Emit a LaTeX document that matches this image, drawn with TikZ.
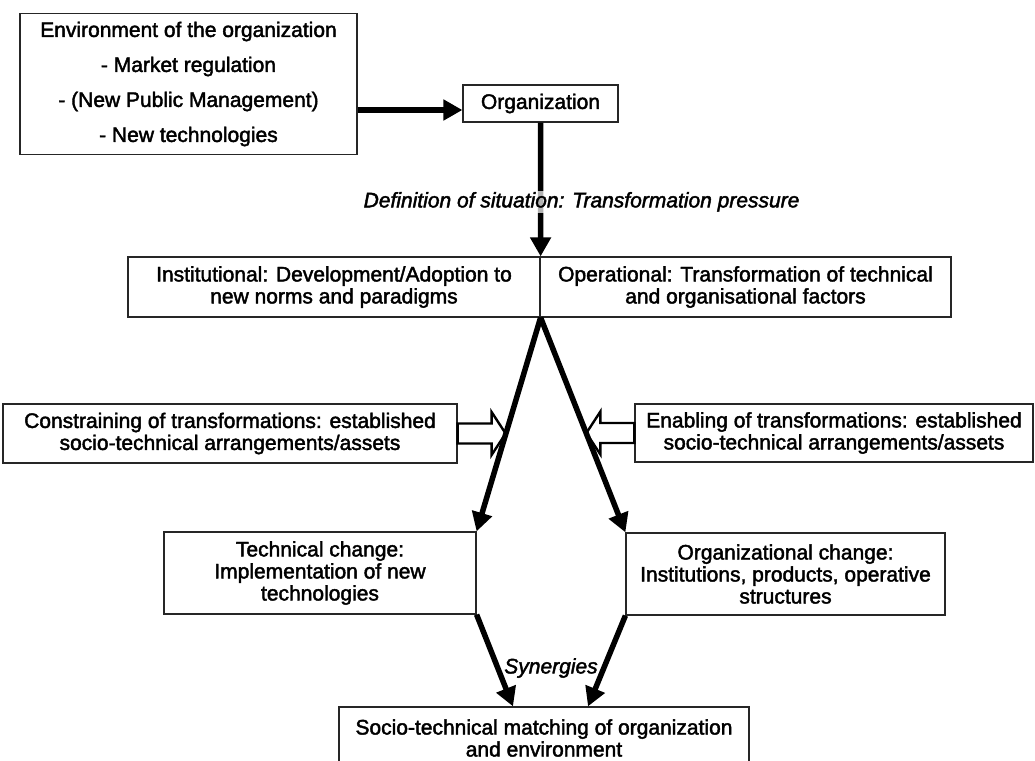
\documentclass[tikz,border=0pt]{standalone}
\usepackage{fontspec}
\setmainfont{Liberation Sans}[RawFeature={embolden=2}]
\usepackage{tikz}
\usetikzlibrary{shapes, positioning, arrows.meta}

\begin{document}
\begin{tikzpicture}[x=1pt, y=-1pt, line join=miter]
\tikzstyle{box}=[draw=black!85, rectangle, line width=1.2pt, fill=white, align=center, inner sep=2pt, font=\fontsize{21}{22}\selectfont]
\tikzstyle{heavy}=[line width=5.5pt, -{Triangle[length=19pt, width=20pt]}]
\tikzstyle{hollow}=[draw=black, line width=2.4pt, fill=white]
\tikzstyle{remark}=[font=\fontsize{21}{22}\selectfont\itshape]

\useasboundingbox (0,0) rectangle (1035,760);
\clip (0,0) rectangle (1035,760);

\node[box, minimum width=337pt, minimum height=141pt, font=\fontsize{21}{35}\selectfont] (env) at (188.5,84) {Environment of the organization\\ - Market regulation\\ - (New Public Management)\\ - New technologies};
\node[box, minimum width=155pt, minimum height=37pt] (org) at (540.5,103.5) {Organization};
\node[box, minimum width=412pt, minimum height=60pt] (inst) at (334,287) {Institutional: Development/Adoption to\\ new norms and paradigms};
\node[box, minimum width=411pt, minimum height=60pt] (oper) at (745.5,287) {Operational: Transformation of technical\\ and organisational factors};
\node[box, minimum width=454pt, minimum height=59pt] (cons) at (230,433.5) {Constraining of transformations: established\\ socio-technical arrangements/assets};
\node[box, minimum width=398pt, minimum height=58pt] (enab) at (834,433) {Enabling of transformations: established\\ socio-technical arrangements/assets};
\node[box, minimum width=312pt, minimum height=82pt] (tech) at (320,573) {Technical change:\\ Implementation of new\\ technologies};
\node[box, minimum width=319pt, minimum height=82pt] (orgc) at (785.5,574) {Organizational change:\\ Institutions, products, operative\\ structures};
\node[box, minimum width=410pt, minimum height=62pt] (match) at (544,738) {Socio-technical matching of organization\\ and environment};
\node[remark] (syn) at (551,668) {Synergies};

% hollow arrows
\draw[hollow] ([yshift=10pt]cons.east) -- ++(34,0) -- ++(0,-11.5) -- ++(14,21.5) -- ++(-14,21.5) -- ++(0,-11.5) -- ++(-34,0) -- cycle;
\draw[hollow] ([yshift=10pt]enab.west) -- ++(-34,0) -- ++(0,-11.5) -- ++(-14,21.5) -- ++(14,21.5) -- ++(0,-11.5) -- ++(34,0) -- cycle;

\path[heavy]
([yshift=-6.5pt]org.west -| env.east) edge ([yshift=-6.5pt]org.west)
(org.south) edge node[remark, pos=0.593, anchor=center, xshift=41pt, fill=white, fill opacity=0.7, text opacity=1, inner sep=1pt] (defn) {Definition of situation: Transformation pressure} (inst.north east)
(inst.south east) edge (tech.north east)
(inst.south east) edge (orgc.north west)
(tech.south east) edge ([xshift=-31pt]match.north)
(orgc.south west) edge ([xshift=44pt]match.north);

\end{tikzpicture}
\end{document}
